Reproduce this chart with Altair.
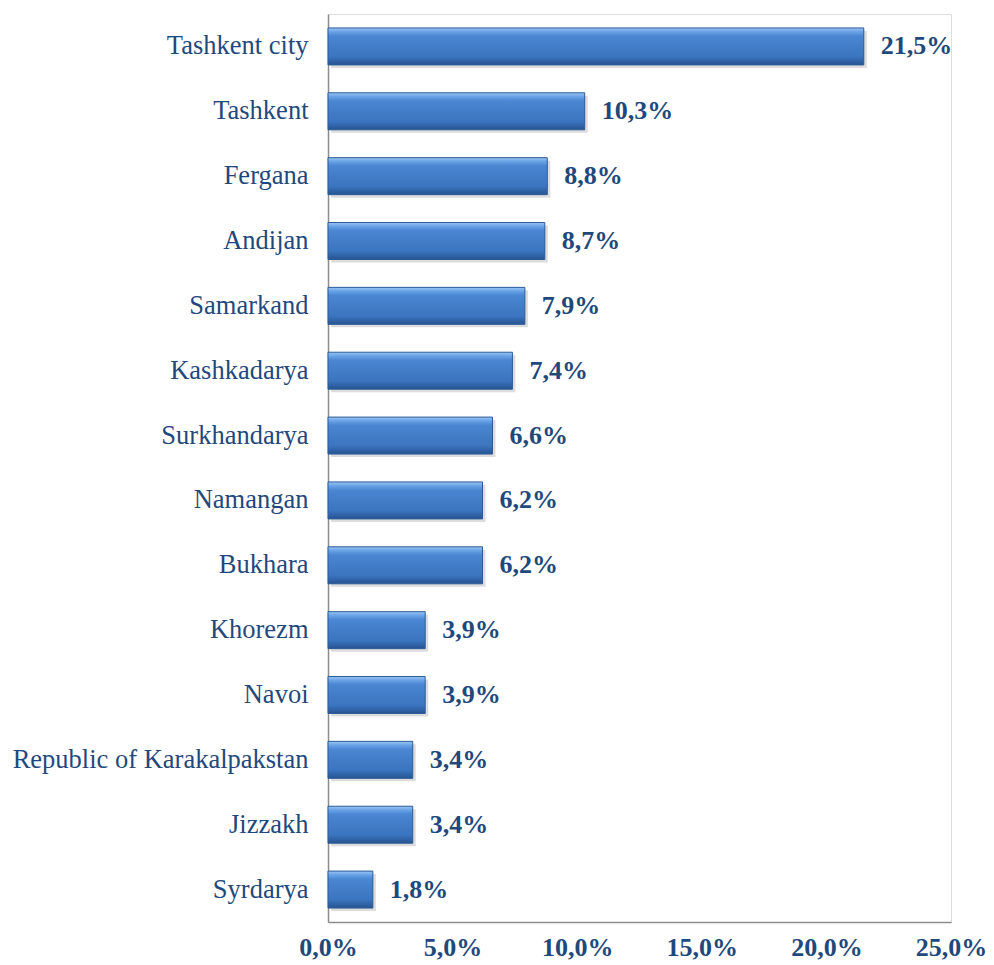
import altair as alt
import pandas as pd

regions = ["Tashkent city", "Tashkent", "Fergana", "Andijan", "Samarkand",
           "Kashkadarya", "Surkhandarya", "Namangan", "Bukhara", "Khorezm",
           "Navoi", "Republic of Karakalpakstan", "Jizzakh", "Syrdarya"]
shares = [21.5, 10.3, 8.8, 8.7, 7.9, 7.4, 6.6, 6.2, 6.2, 3.9, 3.9, 3.4, 3.4, 1.8]
ticks = [0, 5, 10, 15, 20, 25]

df = pd.DataFrame({"region": regions, "share": shares})

TXT = "#1F497D"
FONT = "Liberation Serif"

x = alt.X("share:Q", scale=alt.Scale(domain=[0, 25], nice=False),
          axis=alt.Axis(values=ticks, title=None, grid=False, ticks=False,
                        labelFlush=False,
                        domainColor="#8c8c8c", domainWidth=1.5,
                        labelFont=FONT, labelFontSize=26, labelFontWeight="bold",
                        labelColor=TXT, labelPadding=12,
                        labelExpr="replace(format(datum.value,'.1f'),'.',',')+'%'"))
y = alt.Y("region:N", sort=regions, scale=alt.Scale(paddingInner=0.43, paddingOuter=0.215),
          axis=alt.Axis(title=None, ticks=False, domainColor="#8c8c8c", domainWidth=1.5,
                        labelFont=FONT, labelFontSize=26.5, labelColor=TXT,
                        labelPadding=20, labelLimit=400))

base = alt.Chart(df)

shadow = base.mark_bar(color="#9a9a9a", opacity=0.35, xOffset=3, yOffset=3).encode(x=x, y=y)

grad = alt.Gradient(
    gradient="linear", x1=0, x2=0, y1=0, y2=1,
    stops=[
        alt.GradientStop(offset=0, color="#9cc6f3"),
        alt.GradientStop(offset=0.1, color="#6aa3e6"),
        alt.GradientStop(offset=0.22, color="#4a86d2"),
        alt.GradientStop(offset=0.78, color="#3b74bf"),
        alt.GradientStop(offset=0.9, color="#2f62a6"),
        alt.GradientStop(offset=1, color="#28548f"),
    ])

bars = base.mark_bar(color=grad, stroke="#2c5b97", strokeWidth=1).encode(x=x, y=y)

labels = base.transform_calculate(
    lab="replace(format(datum.share,'.1f'),'.',',')+'%'"
).mark_text(align="left", baseline="middle", dx=17, font=FONT, fontSize=26,
            fontWeight="bold", color=TXT).encode(x=x, y=y, text="lab:N")

chart = (shadow + bars + labels).properties(
    width=623, height=908,
    autosize=alt.AutoSizeParams(type="none"),
    padding={"left": 320, "top": 6, "right": 35, "bottom": 40},
).configure_view(stroke=None).configure(background="white")

chart.save("out.html", embed_options={"renderer": "svg", "actions": False})
